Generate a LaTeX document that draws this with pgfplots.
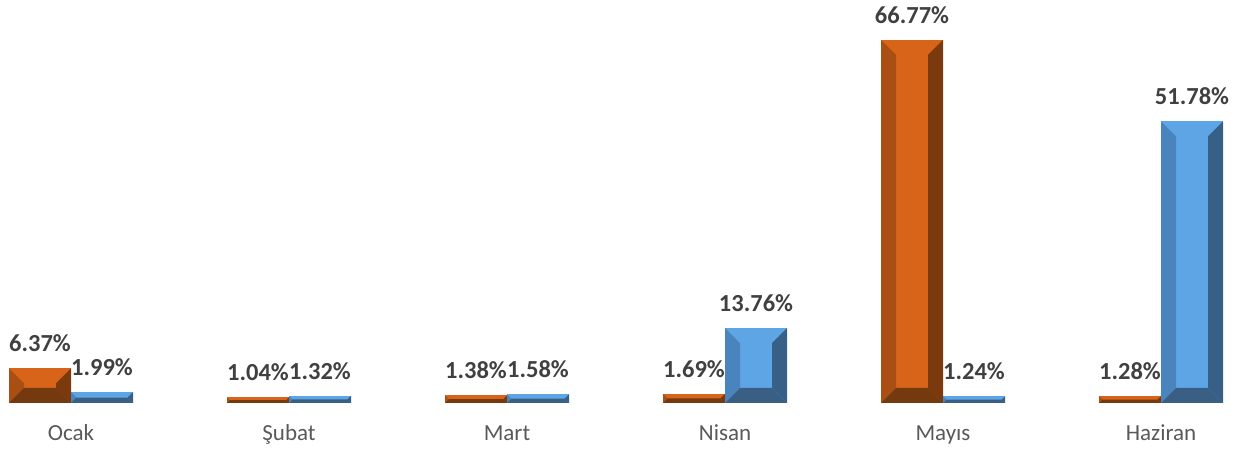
\documentclass[border=0pt]{standalone}
\usepackage{pgfplots}
\pgfplotsset{compat=1.18}
\usepackage{fontspec}
\setmainfont{Carlito}
\definecolor{orC}{HTML}{D76419}
\definecolor{orL}{HTML}{A94F14}
\definecolor{orR}{HTML}{7A3A0E}
\definecolor{orB}{HTML}{74390F}
\definecolor{blC}{HTML}{5EA5E6}
\definecolor{blL}{HTML}{4A84BC}
\definecolor{blR}{HTML}{385F86}
\definecolor{blB}{HTML}{3A5F84}
\definecolor{valtxt}{HTML}{404040}
\definecolor{ticktxt}{HTML}{595959}
\newdimen\bevh
\newdimen\bevA
\newdimen\bevB
\tikzset{
  bevel/.style n args={3}{path picture={%
    \pgfextracty{\bevA}{\pgfpointanchor{path picture bounding box}{south west}}%
    \pgfextracty{\bevB}{\pgfpointanchor{path picture bounding box}{north east}}%
    \bevh=\bevB \advance\bevh by -\bevA \divide\bevh by 2
    \ifdim\bevh>15pt \bevh=15pt\fi
    \edef\bev{\the\bevh}%
    \fill[#1, path picture={}] (path picture bounding box.south west) -- (path picture bounding box.north west)
       -- ([xshift=\bev,yshift=-\bev]path picture bounding box.north west)
       -- ([xshift=\bev,yshift=\bev]path picture bounding box.south west) -- cycle;
    \fill[#2, path picture={}] (path picture bounding box.south east) -- (path picture bounding box.north east)
       -- ([xshift=-\bev,yshift=-\bev]path picture bounding box.north east)
       -- ([xshift=-\bev,yshift=\bev]path picture bounding box.south east) -- cycle;
    \fill[#3, path picture={}] (path picture bounding box.south west) -- (path picture bounding box.south east)
       -- ([xshift=-\bev,yshift=\bev]path picture bounding box.south east)
       -- ([xshift=\bev,yshift=\bev]path picture bounding box.south west) -- cycle;
  }},
  orbar/.style={draw=none, fill=orC, bevel={orL}{orR}{orB}},
  blbar/.style={draw=none, fill=blC, bevel={blL}{blR}{blB}},
}
\pgfplotstableread{
x or bl
0 6.37 1.99
1 1.04 1.32
2 1.38 1.58
3 1.69 13.76
4 66.77 1.24
5 1.28 51.78
}\datatab
\begin{document}
\begin{tikzpicture}
\begin{axis}[
  name=ax,
  scale only axis,
  width=1239pt, height=403pt,
  xmin=-0.3257, xmax=5.3578,
  ymin=0, ymax=74.08,
  enlargelimits=false,
  ybar, bar width=62pt,
  hide y axis,
  axis x line*=bottom,
  x axis line style={draw=none},
  xtick={0,1,2,3,4,5},
  xticklabels={Ocak,Şubat,Mart,Nisan,Mayıs,Haziran},
  major tick length=0pt,
  xtick style={draw=none},
  xticklabel style={anchor=base, yshift=-38pt, text=ticktxt, font=\fontsize{23}{28}\selectfont},
  /pgf/number format/assume math mode=true,
  every node near coord/.append style={anchor=base, yshift=16.5pt, inner sep=0pt, text=valtxt, font=\bfseries\fontsize{24.5}{29}\selectfont},
]
% orange series, one bar per plot
\addplot[forget plot, bar shift=-31pt, orbar] coordinates {(0,6.37)};
\addplot[forget plot, bar shift=-31pt, orbar] coordinates {(1,1.04)};
\addplot[forget plot, bar shift=-31pt, orbar] coordinates {(2,1.38)};
\addplot[forget plot, bar shift=-31pt, orbar] coordinates {(3,1.69)};
\addplot[forget plot, bar shift=-31pt, orbar] coordinates {(4,66.77)};
\addplot[forget plot, bar shift=-31pt, orbar] coordinates {(5,1.28)};
% blue series, one bar per plot
\addplot[forget plot, bar shift=31pt, blbar] coordinates {(0,1.99)};
\addplot[forget plot, bar shift=31pt, blbar] coordinates {(1,1.32)};
\addplot[forget plot, bar shift=31pt, blbar] coordinates {(2,1.58)};
\addplot[forget plot, bar shift=31pt, blbar] coordinates {(3,13.76)};
\addplot[forget plot, bar shift=31pt, blbar] coordinates {(4,1.24)};
\addplot[forget plot, bar shift=31pt, blbar] coordinates {(5,51.78)};
% value labels
\addplot[forget plot, draw=none, fill=none, bar shift=-31pt,
  nodes near coords={\pgfmathprintnumber[fixed,precision=2,fixed zerofill]{\pgfplotspointmeta}\%}] table[x=x,y=or] {\datatab};
\addplot[forget plot, draw=none, fill=none, bar shift=31pt,
  nodes near coords={\pgfmathprintnumber[fixed,precision=2,fixed zerofill]{\pgfplotspointmeta}\%}] table[x=x,y=bl] {\datatab};
\end{axis}
\pgfresetboundingbox
\path[use as bounding box] (ax.south west) ++(0,-47pt) rectangle (ax.north east);
\end{tikzpicture}
\end{document}
